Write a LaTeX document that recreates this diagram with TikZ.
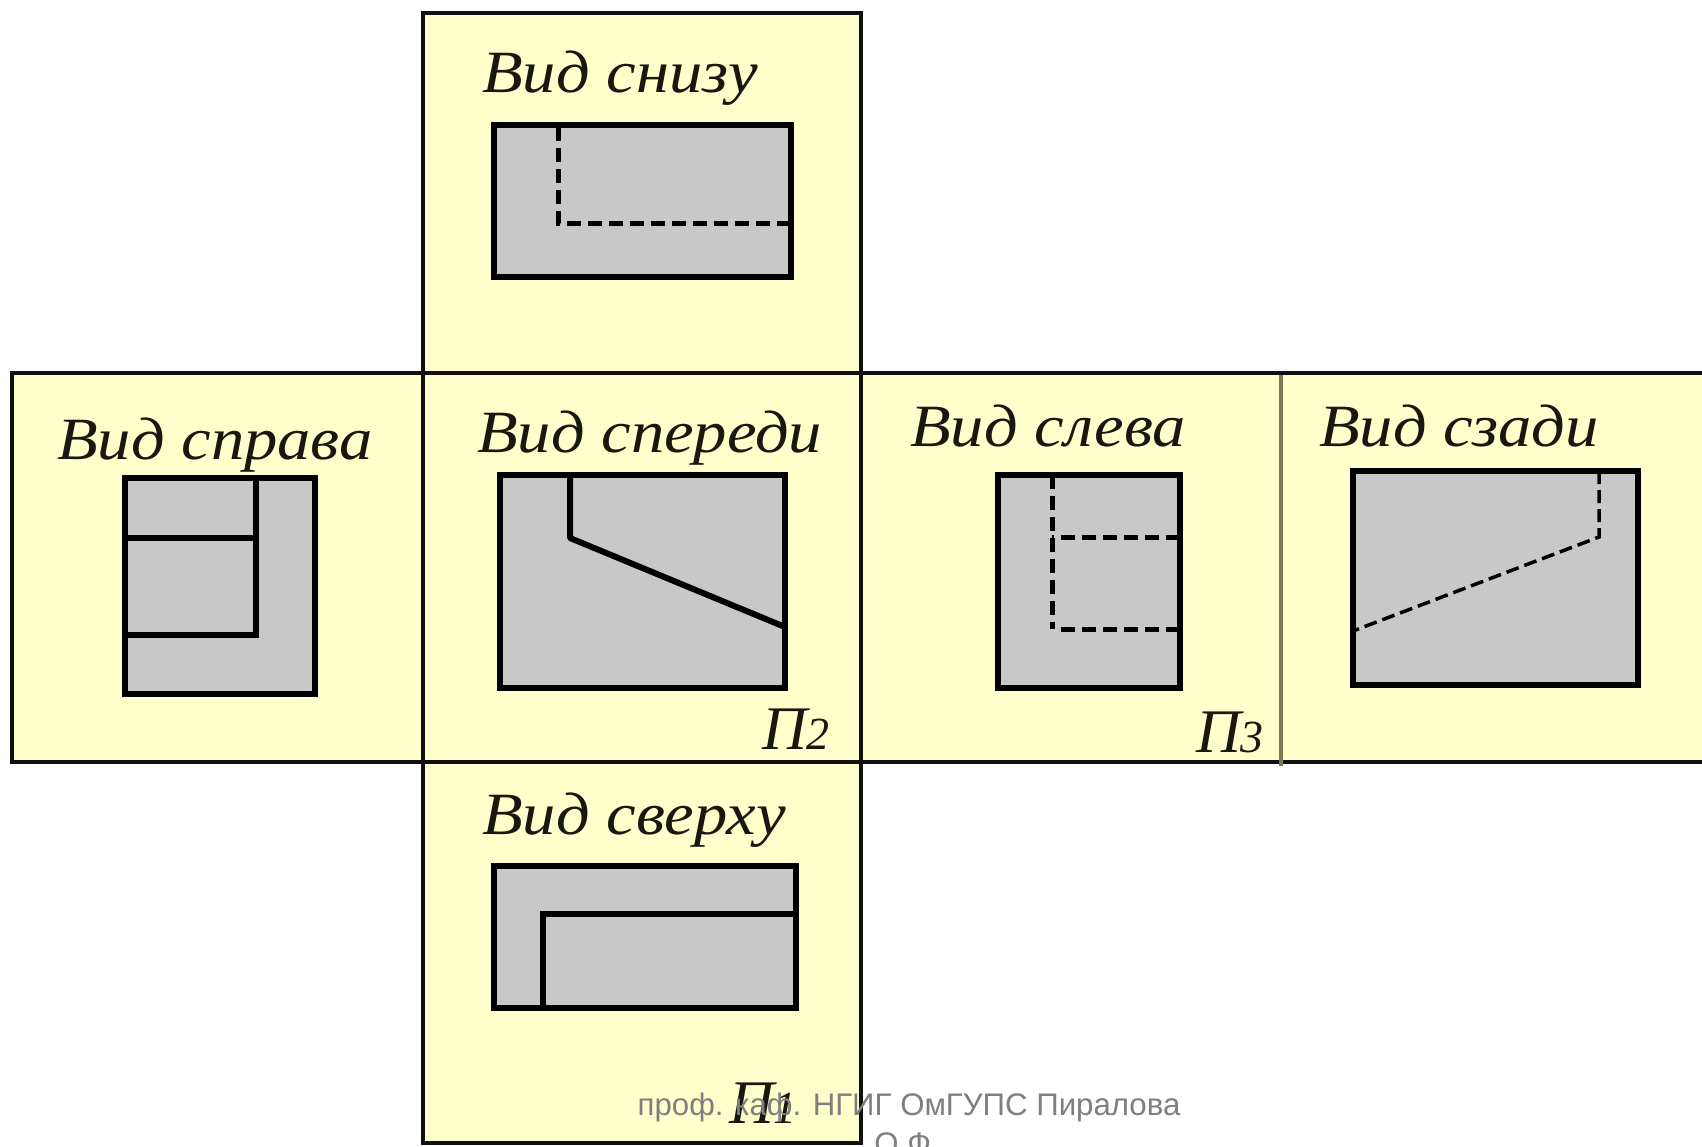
\documentclass[tikz,border=0pt]{standalone}
\usepackage{fontspec}
\setmainfont{Liberation Serif}
\newfontfamily\wideserif[FakeStretch=1.11]{Liberation Serif}
\newfontfamily\slidefont{Liberation Sans}
\definecolor{panelfill}{HTML}{FFFFCC}
\definecolor{boxfill}{HTML}{C8C8C8}
\definecolor{olive}{HTML}{7A7A55}
\definecolor{slidegray}{HTML}{7F7F7F}
\definecolor{inkline}{HTML}{101010}
\tikzset{
  panel/.style={draw=inkline,line width=3.2pt,fill=panelfill},
  panelrule/.style={draw=inkline,line width=3.2pt},
  viewbox/.style={draw=black,line width=6.5pt,line join=miter},
  boxface/.style={fill=boxfill},
  edgeline/.style={draw=black,line width=6pt},
  hiddenline/.style={draw=black,line width=5pt,dash pattern=on 14pt off 7pt},
  hiddenthin/.style={draw=black,line width=3.5pt,dash pattern=on 13pt off 6pt},
  viewlabel/.style={anchor=base west,inner sep=0pt,text=black!80!olive,font=\fontsize{60}{60}\selectfont\wideserif\itshape},
  planelabel/.style={anchor=base west,inner sep=0pt,text=black!80!olive,font=\fontsize{62}{62}\selectfont\itshape},
  slidetext/.style={anchor=base,inner sep=0pt,text=slidegray,font=\fontsize{31.2}{31.2}\selectfont\slidefont}
}
\begin{document}
\begin{tikzpicture}[x=1pt,y=-1pt]
\useasboundingbox (0,0) rectangle (1702,1146);
\fill[white] (0,0) rectangle (1702,1146);
% panels
\draw[panel] (423,13) rectangle (861,373);
\draw[panel] (423,762) rectangle (861,1143);
\fill[panelfill] (12,373) rectangle (1702,762);
\draw[panelrule] (1702,373) -- (12,373) -- (12,762) -- (1702,762);
\draw[panelrule] (423,373) -- (423,762) (861,373) -- (861,762);
\draw[draw=olive,line width=4.5pt] (1281,375) -- (1281,766);
% bottom view
\fill[boxface] (494,125) rectangle (791,277);
\draw[hiddenline] (791,223) -- (558,223) -- (558,127);
\draw[viewbox] (494,125) rectangle (791,277);
% right view
\fill[boxface] (125,478) rectangle (315,694);
\draw[edgeline] (125,538) -- (256,538) (256,478) -- (256,635) -- (125,635);
\draw[viewbox] (125,478) rectangle (315,694);
% front view
\fill[boxface] (500,475) rectangle (785,688);
\draw[edgeline,line join=round] (570,475) -- (570,538) -- (785,627);
\draw[viewbox] (500,475) rectangle (785,688);
% left view
\fill[boxface] (998,475) rectangle (1180,688);
\draw[hiddenline] (1052,475) -- (1052,629);
\draw[hiddenline] (1180,537) -- (1052,537);
\draw[hiddenline] (1180,629) -- (1060,629);
\draw[viewbox] (998,475) rectangle (1180,688);
% rear view
\fill[boxface] (1353,471) rectangle (1638,685);
\draw[hiddenthin] (1599,471) -- (1599,537) -- (1353,631);
\draw[viewbox] (1353,471) rectangle (1638,685);
% top view
\fill[boxface] (494,866) rectangle (796,1008);
\draw[edgeline] (543,1008) -- (543,914) -- (796,914);
\draw[viewbox] (494,866) rectangle (796,1008);
% labels
\node[viewlabel] (lbottom) at (482,92) {Вид снизу};
\node[viewlabel] (lright) at (57,459) {Вид справа};
\node[viewlabel] (lfront) at (477,452) {Вид спереди};
\node[viewlabel] (lleft) at (910,446) {Вид слева};
\node[viewlabel] (lrear) at (1319,446) {Вид сзади};
\node[viewlabel] (ltop) at (482,834) {Вид сверху};
\node[planelabel] (ptwo) at (762,749) {П\fontsize{46}{46}\selectfont 2};
\node[planelabel] (pthree) at (1196,752) {П\fontsize{46}{46}\selectfont 3};
\node[planelabel] (pone) at (729,1123) {П\fontsize{46}{46}\selectfont 1};
% slide footer
\node[slidetext] (footone) at (909,1115) {проф. каф. НГИГ ОмГУПС Пиралова};
\node[slidetext] (foottwo) at (907,1154) {О.Ф.};
\end{tikzpicture}
\end{document}
